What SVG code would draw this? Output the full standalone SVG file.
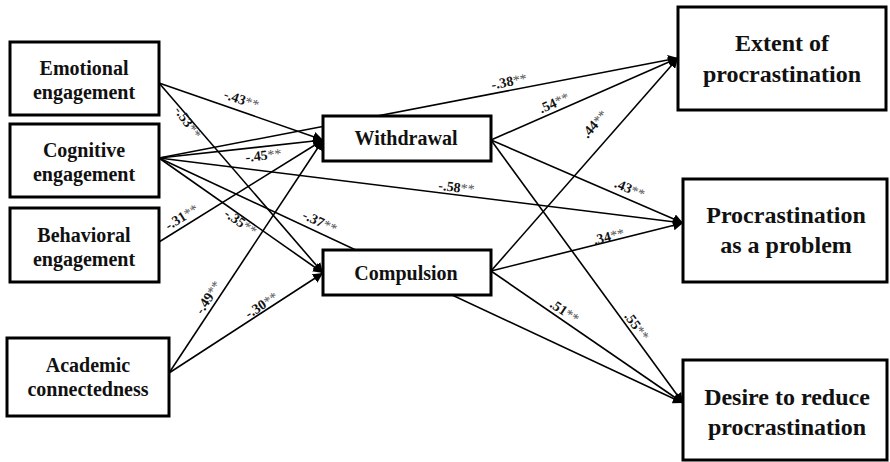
<svg xmlns="http://www.w3.org/2000/svg" width="890" height="462" viewBox="0 0 890 462">
<defs>
<marker id="ah" viewBox="0 0 10 10" refX="10" refY="5" markerWidth="10" markerHeight="10" markerUnits="userSpaceOnUse" orient="auto">
<path d="M0,0 L10,5 L0,10 z" fill="#000"/>
</marker>
</defs>
<style>
.box{fill:#fff;stroke:#000;stroke-width:3}
text{font-family:'Liberation Serif','DejaVu Serif',serif;font-weight:bold;text-anchor:middle;fill:#111}
.t{font-size:20px}
.tr{font-size:24px}
.e{stroke:#000;stroke-width:1.6;fill:none;marker-end:url(#ah)}
.l{font-size:14px}
.s{font-weight:normal;fill:#555}
</style>
<rect width="890" height="462" fill="#fff"/>
<g id="connectors">
<line class="e" x1="159" y1="83" x2="323" y2="140"/>
<line class="e" x1="159" y1="83" x2="323" y2="273"/>
<line class="e" x1="159" y1="158" x2="323" y2="140"/>
<line class="e" x1="159" y1="158" x2="323" y2="273"/>
<line class="e" x1="159" y1="158" x2="678" y2="58"/>
<line class="e" x1="159" y1="158" x2="683" y2="223"/>
<line class="e" x1="159" y1="158" x2="683" y2="403"/>
<line class="e" x1="159" y1="242" x2="323" y2="140"/>
<line class="e" x1="169" y1="373" x2="323" y2="140"/>
<line class="e" x1="169" y1="373" x2="323" y2="273"/>
<line class="e" x1="491" y1="140" x2="678" y2="58"/>
<line class="e" x1="491" y1="140" x2="683" y2="223"/>
<line class="e" x1="491" y1="140" x2="683" y2="403"/>
<line class="e" x1="491" y1="271" x2="678" y2="58"/>
<line class="e" x1="491" y1="271" x2="683" y2="223"/>
<line class="e" x1="491" y1="271" x2="683" y2="403"/>
</g>
<g id="labels">
<text class="l" transform="translate(240,104) rotate(19)">-.43<tspan class="s">**</tspan></text>
<text class="l" transform="translate(184,125) rotate(55)">-.53<tspan class="s">**</tspan></text>
<text class="l" transform="translate(264,160) rotate(-6)">-.45<tspan class="s">**</tspan></text>
<text class="l" transform="translate(238,226) rotate(35)">-.35<tspan class="s">**</tspan></text>
<text class="l" transform="translate(510,86) rotate(-11)">-.38<tspan class="s">**</tspan></text>
<text class="l" transform="translate(456,192) rotate(7)">-.58<tspan class="s">**</tspan></text>
<text class="l" transform="translate(318,226) rotate(25)">-.37<tspan class="s">**</tspan></text>
<text class="l" transform="translate(184,221) rotate(-32)">-.31<tspan class="s">**</tspan></text>
<text class="l" transform="translate(212,300) rotate(-57)">-.49<tspan class="s">**</tspan></text>
<text class="l" transform="translate(264,309) rotate(-33)">-.30<tspan class="s">**</tspan></text>
<text class="l" transform="translate(556,107) rotate(-24)">.54<tspan class="s">**</tspan></text>
<text class="l" transform="translate(628,193) rotate(23)">.43<tspan class="s">**</tspan></text>
<text class="l" transform="translate(633,329) rotate(54)">.55<tspan class="s">**</tspan></text>
<text class="l" transform="translate(598,127) rotate(-49)">.44<tspan class="s">**</tspan></text>
<text class="l" transform="translate(610,241) rotate(-14)">.34<tspan class="s">**</tspan></text>
<text class="l" transform="translate(562,315) rotate(34)">.51<tspan class="s">**</tspan></text>
</g>
<g id="emotional">
<rect class="box" x="10" y="42" width="149" height="73"/>
<text class="t" x="84" y="75">Emotional</text>
<text class="t" x="84" y="99">engagement</text>
</g>
<g id="cognitive">
<rect class="box" x="10" y="124" width="149" height="73"/>
<text class="t" x="84" y="157">Cognitive</text>
<text class="t" x="84" y="181">engagement</text>
</g>
<g id="behavioral">
<rect class="box" x="10" y="208" width="149" height="74"/>
<text class="t" x="84" y="242">Behavioral</text>
<text class="t" x="84" y="266">engagement</text>
</g>
<g id="academic">
<rect class="box" x="7" y="338" width="162" height="78"/>
<text class="t" x="88" y="372">Academic</text>
<text class="t" x="88" y="396">connectedness</text>
</g>
<g id="withdrawal">
<rect class="box" x="323" y="116" width="168" height="45"/>
<text class="t" x="406" y="145">Withdrawal</text>
</g>
<g id="compulsion">
<rect class="box" x="323" y="250" width="168" height="45"/>
<text class="t" x="406" y="280">Compulsion</text>
</g>
<g id="extent">
<rect class="box" x="678" y="7" width="208" height="103"/>
<text class="tr" x="782" y="51">Extent of</text>
<text class="tr" x="782" y="82">procrastination</text>
</g>
<g id="problem">
<rect class="box" x="683" y="179" width="204" height="103"/>
<text class="tr" x="786" y="223">Procrastination</text>
<text class="tr" x="786" y="253">as a problem</text>
</g>
<g id="desire">
<rect class="box" x="683" y="360" width="204" height="100"/>
<text class="tr" x="787" y="405">Desire to reduce</text>
<text class="tr" x="787" y="435">procrastination</text>
</g>
</svg>
